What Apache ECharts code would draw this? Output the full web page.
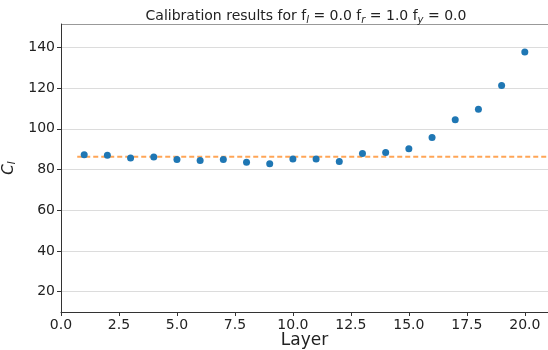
<!DOCTYPE html>
<html>
<head>
<meta charset="utf-8">
<script src="https://cdn.jsdelivr.net/npm/echarts@6/dist/echarts.min.js"></script>
<style>
  html, body { margin: 0; padding: 0; background: #fff; }
  #chart { width: 548px; height: 350px; }
</style>
</head>
<body>
<div id="chart"></div>
<script>
// layer index and calibration value per layer
const layers = [1, 2, 3, 4, 5, 6, 7, 8, 9, 10, 11, 12, 13, 14, 15, 16, 17, 18, 19, 20]
const calib = [87.3, 87.0, 85.7, 86.2, 84.9, 84.4, 84.9, 83.6, 82.8, 85.2,
  85.2, 83.9, 87.9, 88.4, 90.2, 95.7, 104.4, 109.6, 121.3, 137.8]
// mean reference line (start/end of the dashed line, in data units)
const meanLine = [[0.7, 86.3], [21, 86.3]]
const xTicks = [0, 2.5, 5, 7.5, 10, 12.5, 15, 17.5, 20]
const yTicks = [20, 40, 60, 80, 100, 120, 140]

const chart = echarts.init(document.getElementById('chart'))
const font = 'DejaVu Sans'

const option = {
  animation: false,
  backgroundColor: '#fff',
  title: {
    text: 'Calibration results for f{s|l} = 0.0 f{s|r} = 1.0 f{s|y} = 0.0',
    left: 301,
    textAlign: 'center',
    top: 3,
    textStyle: {
      fontFamily: font,
      fontSize: 14,
      fontWeight: 'normal',
      color: '#222',
      rich: {
        s: { fontFamily: font, fontSize: 10, fontStyle: 'italic', color: '#222', padding: [7, 0, 0, 0] }
      }
    }
  },
  grid: { left: 61, right: 0, top: 24, bottom: 38, outerBoundsMode: 'none', containLabel: false },
  xAxis: {
    type: 'value',
    min: 0,
    max: 21,
    name: 'Layer',
    nameLocation: 'middle',
    nameGap: 29,
    nameMoveOverlap: false,
    nameTextStyle: { fontFamily: font, fontSize: 17, color: '#222', verticalAlign: 'middle' },
    axisLine: { show: true, onZero: false, lineStyle: { color: '#333', width: 1 } },
    axisTick: { show: true, length: 4, customValues: xTicks, lineStyle: { color: '#333' } },
    axisLabel: {
      customValues: xTicks,
      fontFamily: font, fontSize: 14, color: '#222', margin: 6,
      formatter: v => v.toFixed(1)
    },
    splitLine: { show: false }
  },
  yAxis: {
    type: 'value',
    min: 10,
    max: 151.5,
    name: '{c|C}{s|l}',
    nameLocation: 'middle',
    nameRotate: 90,
    nameGap: 37,
    nameTextStyle: {
      rich: {
        c: { fontFamily: font, fontSize: 15, fontStyle: 'italic', color: '#222' },
        s: { fontFamily: font, fontSize: 10, fontStyle: 'italic', color: '#222', padding: [7, 0, 0, 0] }
      }
    },
    axisLine: { show: true, onZero: false, lineStyle: { color: '#333', width: 1 } },
    axisTick: { show: true, length: 4, customValues: yTicks, lineStyle: { color: '#333' } },
    axisLabel: { customValues: yTicks, fontFamily: font, fontSize: 14, color: '#222', margin: 6 },
    splitLine: { show: true, lineStyle: { color: '#dcdcdc', width: 1 } }
  },
  graphic: [{
    type: 'line',
    shape: { x1: 61, y1: 24.5, x2: 548, y2: 24.5 },
    style: { stroke: '#999', lineWidth: 1 }
  }],
  series: [
    {
      type: 'line',
      data: meanLine,
      symbol: 'none',
      lineStyle: { color: '#ff7f0e', opacity: 0.7, width: 2, type: [5, 3] },
      z: 2
    },
    {
      type: 'scatter',
      data: layers.map((l, i) => [l, calib[i]]),
      symbolSize: 7,
      itemStyle: { color: '#1f77b4', opacity: 1 },
      z: 3
    }
  ]
}

chart.setOption(option)
</script>
</body>
</html>
